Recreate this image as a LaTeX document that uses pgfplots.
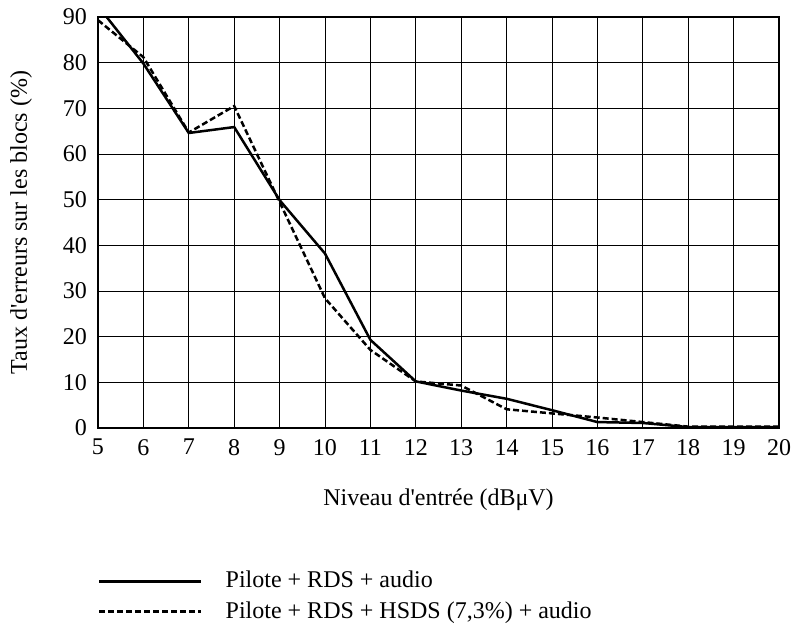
\documentclass[border=0pt]{standalone}
\usepackage{fontspec}
\setmainfont{Liberation Serif}
\usepackage{pgfplots}
\pgfplotsset{compat=1.18}
\begin{document}
\fontsize{24}{29}\selectfont
\begin{tikzpicture}
\path[use as bounding box] (-98pt,-204pt) rectangle (695pt,428pt);
\begin{axis}[
  at={(0pt,0pt)}, anchor=south west,
  scale only axis, width=681pt, height=411pt,
  xmin=5, xmax=20, ymin=0, ymax=90,
  xtick={5,...,20}, ytick={0,10,...,90},
  grid=major,
  major grid style={black, line width=0.8pt},
  axis line style={black, line width=1.1pt},
  tick style={draw=none},
  /pgf/number format/assume math mode=true,
  ticklabel style={font=\fontsize{24}{29}\selectfont},
  xticklabel style={yshift=-3pt},
  yticklabel style={xshift=-3pt},
  xlabel={Niveau d\textquotesingle entrée (dBμV)},
  ylabel={Taux d\textquotesingle erreurs sur les blocs (\%)},
  every axis x label/.style={at={(axis description cs:0.5,-0.175)}, anchor=center},
  every axis y label/.style={at={(axis description cs:-0.113,0.5)}, anchor=center, rotate=90},
  label style={font=\fontsize{24}{29}\selectfont},
  clip=true,
  legend image code/.code={\draw[#1] (0pt,0pt) -- (102pt,0pt);},
  legend style={at={(axis description cs:0,-0.343)}, anchor=north west, draw=none, fill=none,
    inner sep=0pt, row sep=6pt, cells={anchor=west},
    font=\fontsize{24}{29}\selectfont,
    nodes={inner sep=2pt},
    /tikz/every odd column/.style={column sep=21pt}},
]
\addplot[black, line width=2.5pt] coordinates {
(5,92.4) (6,79.8) (7,64.6) (8,65.9) (9,49.9) (10,38.2) (11,19.3) (12,10.2) (13,8.2) (14,6.4) (15,3.9) (16,1.3) (17,1.1) (18,0.2) (19,0.2) (20,0.2)
};
\addlegendentry{Pilote + RDS + audio}
\addplot[black, line width=2.5pt, dash pattern=on 6pt off 3pt] coordinates {
(5,89.3) (6,81.2) (7,64.7) (8,70.5) (9,49.5) (10,28.4) (11,17.1) (12,10.2) (13,9.3) (14,4.1) (15,3.2) (16,2.3) (17,1.3) (18,0.3) (19,0.3) (20,0.3)
};
\addlegendentry{Pilote + RDS + HSDS (7,3\%) + audio}
\end{axis}
\end{tikzpicture}
\end{document}
